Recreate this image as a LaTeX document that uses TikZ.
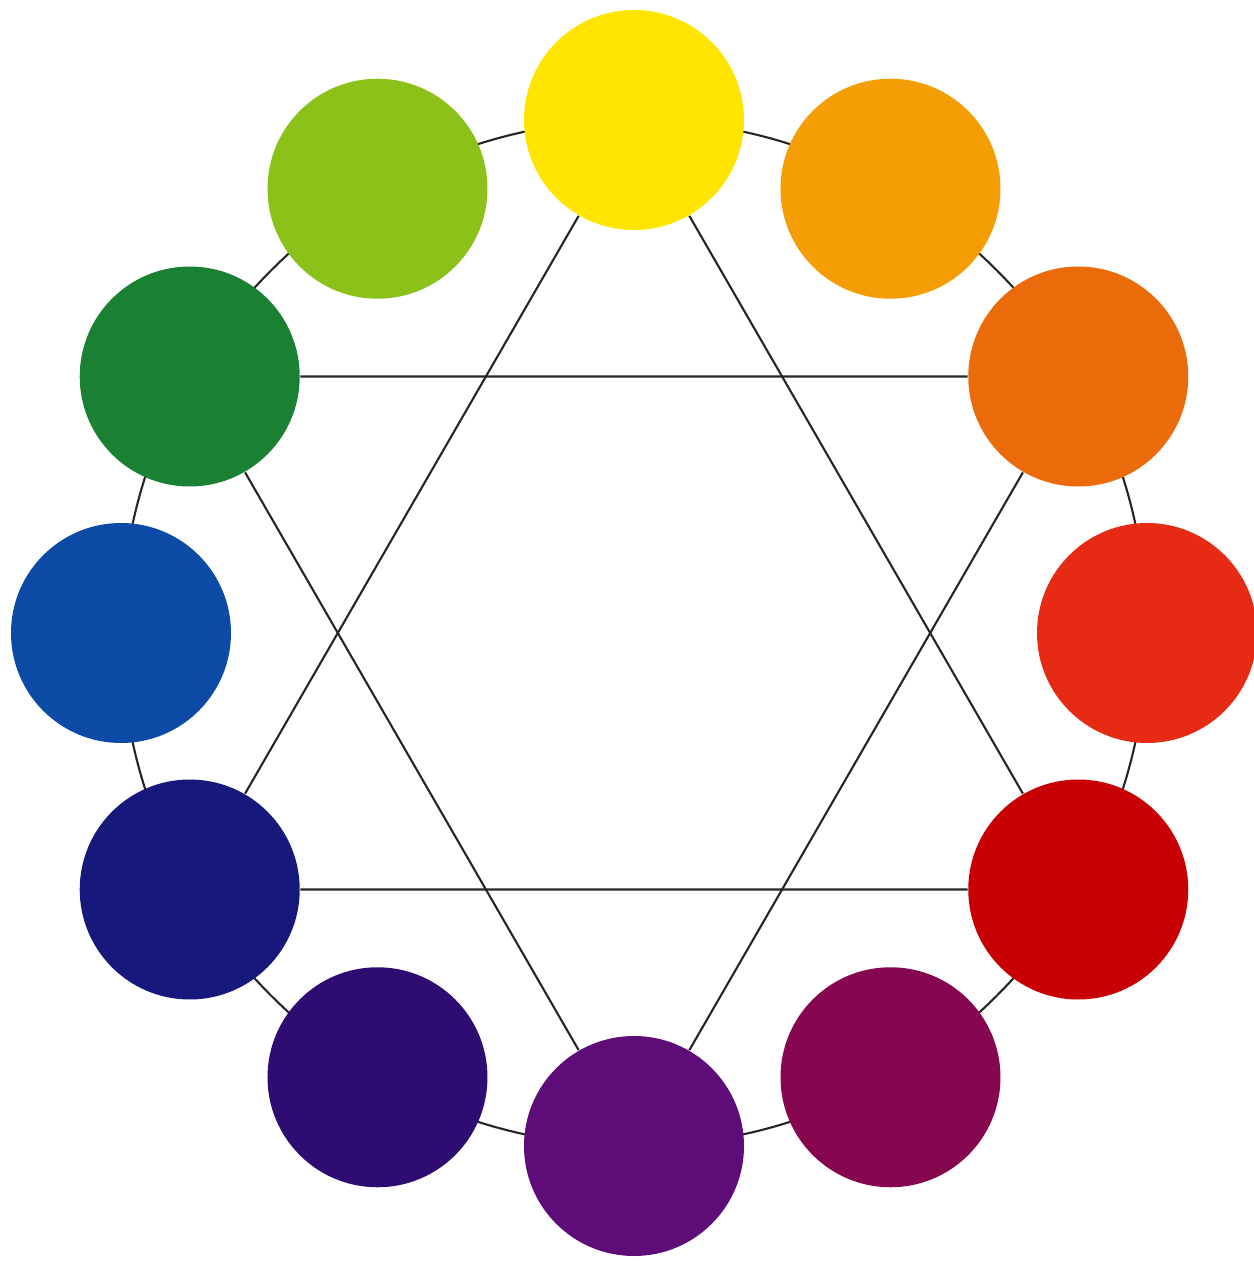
\documentclass[tikz,border=0pt]{standalone}
\usetikzlibrary{backgrounds}
\definecolor{hueR}{HTML}{E62A14}
\definecolor{hueRO}{HTML}{EB6A0A}
\definecolor{hueYO}{HTML}{F59D05}
\definecolor{hueY}{HTML}{FFE500}
\definecolor{hueYG}{HTML}{8CC11A}
\definecolor{hueG}{HTML}{1A8032}
\definecolor{hueB}{HTML}{0B4BA5}
\definecolor{hueBV}{HTML}{16187C}
\definecolor{hueV}{HTML}{2E0C72}
\definecolor{huePu}{HTML}{5E0C78}
\definecolor{hueRV}{HTML}{860650}
\definecolor{hueDR}{HTML}{C80004}
\begin{document}
\begin{tikzpicture}[line join=round, line cap=round,
  hue/.style={circle, minimum size=2.2cm, inner sep=0pt, fill=#1},
  wheel/.style={line width=0.6pt, black!85}]
\useasboundingbox (-6.34,-6.28) rectangle (6.20,6.33);
\foreach \a/\c in {0/hueR, 30/hueRO, 60/hueYO, 90/hueY, 120/hueYG, 150/hueG,
  180/hueB, 210/hueBV, 240/hueV, 270/huePu, 300/hueRV, 330/hueDR}
  \node[hue=\c] (\c) at (\a:5.13) {};
\begin{scope}[on background layer]
  \draw[wheel] (0,0) circle (5.13);
  % hai tam giac deu
  \draw[wheel] (hueY)--(hueDR) (hueDR)--(hueBV) (hueBV)--(hueY);
  \draw[wheel] (hueG)--(hueRO) (hueRO)--(huePu) (huePu)--(hueG);
\end{scope}
\end{tikzpicture}
\end{document}
